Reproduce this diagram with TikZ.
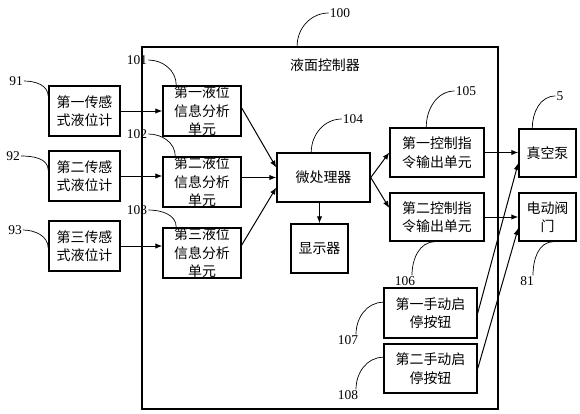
\documentclass[tikz,border=0pt]{standalone}
\usepackage{fontspec}
\setmainfont{Liberation Serif}
\newfontfamily\cjk{Noto Sans CJK SC}
\usetikzlibrary{positioning, calc, arrows.meta}

\tikzset{
  unit/.style={draw, line width=1.5pt, align=center, inner sep=0pt, font=\cjk\fontsize{14}{18.5}\selectfont},
  tag/.style={inner sep=1pt, font=\fontsize{13.5}{13.5}\selectfont},
  lead/.style={line width=0.7pt},
  flow/.style={draw, line width=1pt, -{Latex[length=7pt,width=5.5pt]}},
}

\begin{document}
\begin{tikzpicture}[x=1bp, y=-1bp]
  \useasboundingbox (0,0) rectangle (580,413);

  \node[draw, line width=1.8pt, minimum width=356bp, minimum height=362bp] (ctrl) at (320,228) {};
  \node[font=\cjk\fontsize{14}{14}\selectfont] (title) at (325,65) {液面控制器};

  \node[unit, minimum width=71bp, minimum height=50bp] (s1) at (84.5,111) {第一传感\\式液位计};
  \node[unit, minimum width=71bp, minimum height=50bp] (s2) at (84.5,176) {第二传感\\式液位计};
  \node[unit, minimum width=71bp, minimum height=50bp] (s3) at (84.5,246) {第三传感\\式液位计};

  \node[unit, minimum width=78bp, minimum height=50bp] (a1) at (202,111) {第一液位\\信息分析\\单元};
  \node[unit, minimum width=78bp, minimum height=50bp] (a2) at (202,182) {第二液位\\信息分析\\单元};
  \node[unit, minimum width=78bp, minimum height=50bp] (a3) at (202,253) {第三液位\\信息分析\\单元};

  \node[unit, minimum width=93bp, minimum height=49bp] (mp) at (323.5,177.5) {微处理器};
  \node[unit, minimum width=57bp, minimum height=49bp] (disp) at (319.5,248.5) {显示器};

  \node[unit, minimum width=94bp, minimum height=49bp] (c1) at (437,152.5) {第一控制指\\令输出单元};
  \node[unit, minimum width=94bp, minimum height=48bp] (c2) at (437,217) {第二控制指\\令输出单元};

  \node[unit, minimum width=57bp, minimum height=48bp] (pump) at (547.5,153) {真空泵};
  \node[unit, minimum width=57bp, minimum height=48bp] (valve) at (547.5,217) {电动阀\\门};

  \node[unit, minimum width=93bp, minimum height=50bp] (b1) at (430.5,313) {第一手动启\\停按钮};
  \node[unit, minimum width=93bp, minimum height=49bp] (b2) at (430.5,368.5) {第二手动启\\停按钮};

  % reference numbers
  \node[tag] (l91) at (16,81) {91};
  \node[tag] (l92) at (13,156) {92};
  \node[tag] (l93) at (15,230) {93};
  \node[tag] (l101) at (137,60) {101};
  \node[tag] (l102) at (137,134) {102};
  \node[tag] (l103) at (137,210) {103};
  \node[tag] (l100) at (340,13) {100};
  \node[tag] (l104) at (353,119) {104};
  \node[tag] (l105) at (466,91) {105};
  \node[tag] (l5) at (560,96) {5};
  \node[tag] (l106) at (405,281) {106};
  \node[tag] (l81) at (527,281) {81};
  \node[tag] (l107) at (348,340) {107};
  \node[tag] (l108) at (348,395) {108};

  \draw[lead] (l91.east) to[out=0,in=90] ([yshift=-11bp]s1.north west);
  \draw[lead] (l92.east) to[out=0,in=90] ([yshift=-20bp]s2.north west);
  \draw[lead] (l93.east) to[out=0,in=90] ([yshift=-28bp]s3.north west);
  \draw[lead] (l101.east) to[out=0,in=90] ([xshift=14bp]a1.north west);
  \draw[lead] (l102.east) to[out=0,in=90] ([xshift=13bp]a2.north west);
  \draw[lead] (l103.east) to[out=0,in=90] ([xshift=14bp]a3.north west);
  \draw[lead] (l100.west) to[out=180,in=90] ([xshift=156bp]ctrl.north west);
  \draw[lead] (l104.west) to[out=180,in=90] ([xshift=35bp]mp.north west);
  \draw[lead] (l105.west) to[out=180,in=90] ([xshift=37bp]c1.north west);
  \draw[lead] (l5.west) to[out=180,in=90] ([xshift=14bp]pump.north west);
  \draw[lead] ([xshift=7bp]l106.north) to[out=90,in=180] ([xshift=-2bp]c2.south);
  \draw[lead] ([xshift=6bp]l81.north) to[out=90,in=180] ([xshift=6bp]valve.south);
  \draw[lead] ([xshift=8bp]l107.north) to[out=90,in=180] ([yshift=-15bp]b1.north west);
  \draw[lead] ([xshift=8bp]l108.north) to[out=90,in=180] ([yshift=-14bp]b2.north west);

  % signal flow
  \path[flow] (s1.east) -- (s1.east -| a1.west);
  \path[flow] (s2.east) -- (s2.east -| a2.west);
  \path[flow] (s3.east) -- (s3.east -| a3.west);
  \path[flow] ([yshift=3bp]a1.east) -- ([yshift=10bp]mp.west);
  \path[flow] (a2.east |- mp.west) -- (mp.west);
  \path[flow] ([yshift=8bp]a3.east) -- ([yshift=-10bp]mp.west);
  \path[flow] (mp.south -| disp.north) -- (disp.north);
  \path[flow] (mp.east) -- (c1.west);
  \path[flow] (mp.east) -- ([yshift=9bp]c2.west);
  \path[flow] (c1.east) -- (c1.east -| pump.west);
  \path[flow] (c2.east) -- (c2.east -| valve.west);
  \path[flow] (b1.east) -- ([yshift=-10bp]pump.west);
  \path[flow] (b2.east) -- ([yshift=-11bp]valve.west);
\end{tikzpicture}
\end{document}
